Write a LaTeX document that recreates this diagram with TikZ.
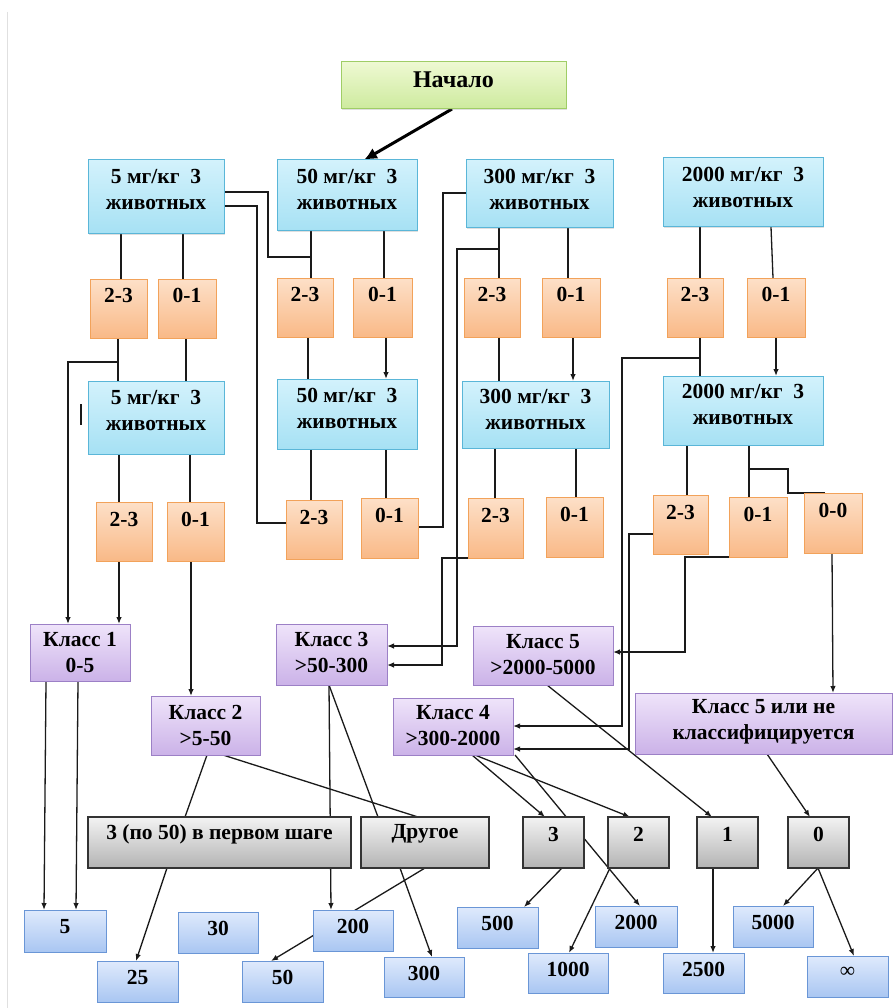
\documentclass[tikz,border=0pt]{standalone}
\usepackage{fontspec}
\setmainfont{Liberation Serif}
\usetikzlibrary{arrows.meta,shadows}
\pgfdeclarelayer{bg}
\pgfsetlayers{bg,main}
\definecolor{lnc}{HTML}{1A1A1A}
\definecolor{gD}{HTML}{9FCD66}\definecolor{gT}{HTML}{EEF9D2}\definecolor{gB}{HTML}{CDEA9E}
\definecolor{cD}{HTML}{5AB6D8}\definecolor{cT}{HTML}{D3F2FC}\definecolor{cB}{HTML}{A6E1F4}
\definecolor{oD}{HTML}{F2A25A}\definecolor{oT}{HTML}{FDE0C8}\definecolor{oB}{HTML}{F9B987}
\definecolor{pD}{HTML}{9C80C6}\definecolor{pT}{HTML}{EFE4FA}\definecolor{pB}{HTML}{CBB2E8}
\definecolor{kD}{HTML}{333333}\definecolor{kT}{HTML}{F3F3F3}\definecolor{kB}{HTML}{B3B3B3}
\definecolor{bD}{HTML}{6A96D6}\definecolor{bT}{HTML}{DFEAFC}\definecolor{bB}{HTML}{A9C6F2}
\newcommand\bx[8]{%
  \node[#1, minimum width={#5pt-#3pt}, minimum height={#6pt-#4pt}] (#2) at ({(#3+#5)/2},{(#4+#6)/2}) {};
  \node[txt, #8] (#2t) at (#2) {#7};}
\tikzset{
  base/.style={draw, inner sep=0pt, outer sep=0pt, line width=1pt,
    drop shadow={shadow xshift=1.2pt, shadow yshift=-1.2pt, opacity=0.25}},
  grn/.style={base, draw=gD, top color=gT, bottom color=gB},
  cyanbox/.style={base, draw=cD, top color=cT, bottom color=cB},
  orbox/.style={base, draw=oD, top color=oT, bottom color=oB},
  purbox/.style={base, draw=pD, top color=pT, bottom color=pB},
  grbox/.style={base, draw=kD, line width=1.3pt, top color=kT, bottom color=kB},
  blbox/.style={base, draw=bD, top color=bT, bottom color=bB},
  txt/.style={inner sep=0pt, align=center, font=\fontsize{21.5}{26}\selectfont\bfseries},
  ln/.style={draw=lnc, line width=1.3pt},
  arr/.style={ln, -{Latex[length=7pt,width=5.5pt]}},
  big/.style={draw=black, line width=3pt, -{Latex[length=13pt,width=12pt]}},
}
\begin{document}
\begin{tikzpicture}[x=1pt,y=-1pt]
\useasboundingbox (0,0) rectangle (894,1008);
% ---- boxes
\bx{grn}{start}{341}{62}{566}{109}{Начало}{yshift=6pt,font=\fontsize{24}{26}\selectfont\bfseries}
% row 1
\bx{cyanbox}{A1}{88}{160}{224}{234}{5 мг/кг \ 3\\животных}{yshift=8pt}
\bx{cyanbox}{B1}{277}{160}{417}{231}{50 мг/кг \ 3\\животных}{yshift=6.5pt}
\bx{cyanbox}{C1}{466}{160}{613}{228}{300 мг/кг \ 3\\животных}{yshift=5pt}
\bx{cyanbox}{D1}{663}{158}{823}{227}{2000 мг/кг \ 3\\животных}{yshift=5.5pt}
% row 2
\bx{orbox}{A2a}{90}{279}{147}{338}{2-3}{yshift=13pt}
\bx{orbox}{A2b}{158}{279}{216}{338}{0-1}{yshift=13pt}
\bx{orbox}{B2a}{277}{278}{333}{337}{2-3}{yshift=13pt}
\bx{orbox}{B2b}{353}{278}{412}{337}{0-1}{yshift=13pt}
\bx{orbox}{C2a}{464}{278}{520}{337}{2-3}{yshift=13pt}
\bx{orbox}{C2b}{542}{278}{600}{337}{0-1}{yshift=13pt}
\bx{orbox}{D2a}{667}{278}{723}{337}{2-3}{yshift=13pt}
\bx{orbox}{D2b}{747}{278}{805}{337}{0-1}{yshift=13pt}
% row 3
\bx{cyanbox}{A3}{88}{381}{224}{454}{5 мг/кг \ 3\\животных}{yshift=7.5pt}
\bx{cyanbox}{B3}{277}{379}{417}{449}{50 мг/кг \ 3\\животных}{yshift=6pt}
\bx{cyanbox}{C3}{462}{381}{609}{448}{300 мг/кг \ 3\\животных}{yshift=5pt}
\bx{cyanbox}{D3}{663}{376}{823}{445}{2000 мг/кг \ 3\\животных}{yshift=6pt}
% row 4
\bx{orbox}{A4a}{96}{502}{152}{561}{2-3}{yshift=12.5pt}
\bx{orbox}{A4b}{167}{502}{224}{561}{0-1}{yshift=12.5pt}
\bx{orbox}{B4a}{286}{500}{342}{559}{2-3}{yshift=12.5pt}
\bx{orbox}{B4b}{361}{498}{418}{558}{0-1}{yshift=12.5pt}
\bx{orbox}{C4a}{468}{498}{523}{558}{2-3}{yshift=12.5pt}
\bx{orbox}{C4b}{546}{497}{603}{557}{0-1}{yshift=12.5pt}
\bx{orbox}{D4a}{653}{495}{708}{554}{2-3}{yshift=12.5pt}
\bx{orbox}{D4b}{729}{497}{787}{557}{0-1}{yshift=12.5pt}
\bx{orbox}{D4c}{804}{493}{862}{553}{0-0}{yshift=13pt}
% classes
\bx{purbox}{K1}{30}{624}{130}{681}{Класс 1\\0-5}{yshift=0pt}
\bx{purbox}{K2}{151}{696}{260}{755}{Класс 2\\>5-50}{yshift=0pt}
\bx{purbox}{K3}{276}{624}{387}{685}{Класс 3\\>50-300}{yshift=2pt}
\bx{purbox}{K4}{393}{698}{513}{755}{Класс 4\\>300-2000}{yshift=1pt}
\bx{purbox}{K5}{473}{626}{613}{685}{Класс 5\\>2000-5000}{yshift=1pt}
\bx{purbox}{K5n}{635}{693}{892}{754}{Класс 5 или не\\классифицируется}{yshift=2pt}
% gray
\bx{grbox}{G1}{88}{817}{351}{868}{3 (по 50) в первом шаге}{yshift=8.5pt}
\bx{grbox}{G2}{361}{817}{489}{868}{Другое}{yshift=8.5pt}
\bx{grbox}{G3}{523}{817}{584}{868}{3}{yshift=8.5pt}
\bx{grbox}{G4}{608}{817}{669}{868}{2}{yshift=8.5pt}
\bx{grbox}{G5}{697}{817}{758}{868}{1}{yshift=8.5pt}
\bx{grbox}{G6}{788}{817}{849}{868}{0}{yshift=8.5pt}
% values
\bx{blbox}{v5}{24}{910}{106}{952}{5}{yshift=4pt}
\bx{blbox}{v30}{178}{912}{258}{953}{30}{yshift=4pt}
\bx{blbox}{v200}{313}{910}{393}{951}{200}{yshift=4pt}
\bx{blbox}{v25}{97}{961}{178}{1002}{25}{yshift=4pt}
\bx{blbox}{v50}{242}{961}{323}{1002}{50}{yshift=4pt}
\bx{blbox}{v300}{384}{957}{464}{997}{300}{yshift=4pt}
\bx{blbox}{v500}{457}{907}{538}{948}{500}{yshift=4pt}
\bx{blbox}{v2000}{595}{906}{677}{947}{2000}{yshift=4pt}
\bx{blbox}{v1000}{528}{953}{608}{993}{1000}{yshift=4pt}
\bx{blbox}{v2500}{663}{953}{744}{993}{2500}{yshift=4pt}
\bx{blbox}{v5000}{733}{906}{813}{947}{5000}{yshift=4pt}
\bx{blbox}{vinf}{807}{956}{888}{997}{\mdseries ∞}{yshift=4pt}
% ---- connectors
\begin{pgfonlayer}{bg}
\fill[white] (0,0) rectangle (894,1008);
\draw[draw=black!12, line width=0.8pt] (7,12) -- (7,1008);
\coordinate (jB) at (311,257);
\coordinate (jC) at (499,249);
\coordinate (jA) at (118,362);
\coordinate (jD) at (700,358);
\coordinate (jD3) at (749,469);
\draw[big] (start.south -| 452,0) -- (B1.north -| 364,0);
% row1 -> row2
\draw[ln] (A1.south -| 121,0) -- (A2a.north -| 121,0);
\draw[ln] (A1.south -| 183,0) -- (A2b.north -| 183,0);
\draw[ln] (B1.south -| 311,0) -- (B2a.north -| 311,0);
\draw[ln] (B1.south -| 384,0) -- (B2b.north -| 384,0);
\draw[ln] (C1.south -| 499,0) -- (C2a.north -| 499,0);
\draw[ln] (C1.south -| 568,0) -- (C2b.north -| 568,0);
\draw[ln] (D1.south -| 700,0) -- (D2a.north -| 700,0);
\draw[ln] (D1.south -| 771,0) -- (D2b.north -| 773,0);
% side loops
\draw[ln] (A1.east |- 0,192) -- (268,192) |- (jB);
\draw[ln] (A1.east |- 0,206) -- (257,206) |- (B4a.west |- 0,523);
\draw[ln] (C1.west |- 0,193) -- (443,193) |- (B4b.east |- 0,527);
\draw[arr] (jC) -- (457,249) |- (K3.east |- 0,646);
% row2 -> row3
\draw[ln] (A2a.south -| 118,0) -- (A3.north -| 118,0);
\draw[ln] (A2b.south -| 186,0) -- (A3.north -| 186,0);
\draw[ln] (B2a.south -| 308,0) -- (B3.north -| 308,0);
\draw[arr] (B2b.south -| 386,0) -- (B3.north -| 386,0);
\draw[ln] (C2a.south -| 499,0) -- (C3.north -| 499,0);
\draw[arr] (C2b.south -| 573,0) -- (C3.north -| 573,0);
\draw[ln] (D2a.south -| 700,0) -- (D3.north -| 700,0);
\draw[arr] (D2b.south -| 776,0) -- (D3.north -| 776,0);
\draw[arr] (jA) -- (68,362) -- (K1.north -| 68,0);
\draw[arr] (jD) -- (622,358) |- (K4.east |- 0,726);
\draw[ln] (81,404) -- (81,425);
% row3 -> row4
\draw[ln] (A3.south -| 119,0) -- (A4a.north -| 119,0);
\draw[ln] (A3.south -| 190,0) -- (A4b.north -| 190,0);
\draw[ln] (B3.south -| 311,0) -- (B4a.north -| 311,0);
\draw[ln] (B3.south -| 386,0) -- (B4b.north -| 386,0);
\draw[ln] (C3.south -| 495,0) -- (C4a.north -| 495,0);
\draw[ln] (C3.south -| 576,0) -- (C4b.north -| 576,0);
\draw[ln] (D3.south -| 687,0) -- (D4a.north -| 687,0);
\draw[ln] (D3.south -| 749,0) -- (D4b.north -| 749,0);
\draw[ln] (jD3) -- (788,469) |- (D4c.north -| 825,0);
% row4 -> classes
\draw[arr] (A4a.south -| 119,0) -- (K1.north -| 119,0);
\draw[arr] (A4b.south -| 191,0) -- (K2.north -| 191,0);
\draw[arr] (C4a.south -| 495,0) -- (442,558) |- (K3.east |- 0,665);
\draw[arr] (D4a.west |- 0,534) -- (629,534) |- (K4.east |- 0,749);
\draw[arr] (D4b.south -| 757,0) -- (685,557) |- (K5.east |- 0,652);
\draw[arr] (D4c.south -| 832,0) -- (K5n.north -| 833,0);
% classes -> bottom
\draw[arr] (K1.south -| 46,0) -- (v5.north -| 44,0);
\draw[arr] (K1.south -| 78,0) -- (v5.north -| 76,0);
\draw[ln] (K2.south -| 207,0) -- (G1.north -| 185,0);
\draw[ln] (K2.south -| 223,0) -- (G2.north -| 418,0);
\draw[arr] (K3.south -| 329,0) -- (v200.north -| 331,0);
\draw[ln] (K3.south -| 329,0) -- (G2.north -| 378,0);
\draw[arr] (K4.south -| 472,0) -- (G3.north -| 545,0);
\draw[arr] (K4.south -| 475,0) -- (G4.north -| 630,0);
\draw[arr] (K4.south -| 515,0) -- (v2000.north -| 640,0);
\draw[arr] (K5.south -| 547,0) -- (G5.north -| 712,0);
\draw[arr] (K5n.south -| 767,0) -- (G6.north -| 810,0);
% gray -> values
\draw[arr] (G1.south -| 167,0) -- (v25.north -| 136,0);
\draw[arr] (G2.south -| 425,0) -- (v50.north -| 271,0);
\draw[arr] (G2.south -| 400,0) -- (v300.north -| 432,0);
\draw[arr] (G3.south -| 562,0) -- (v500.north -| 524,0);
\draw[arr] (G4.south -| 610,0) -- (v1000.north -| 569,0);
\draw[arr] (G5.south -| 713,0) -- (v2500.north -| 713,0);
\draw[arr] (G6.south -| 818,0) -- (v5000.north -| 783,0);
\draw[arr] (G6.south -| 818,0) -- (vinf.north -| 854,0);
\end{pgfonlayer}
\end{tikzpicture}
\end{document}
